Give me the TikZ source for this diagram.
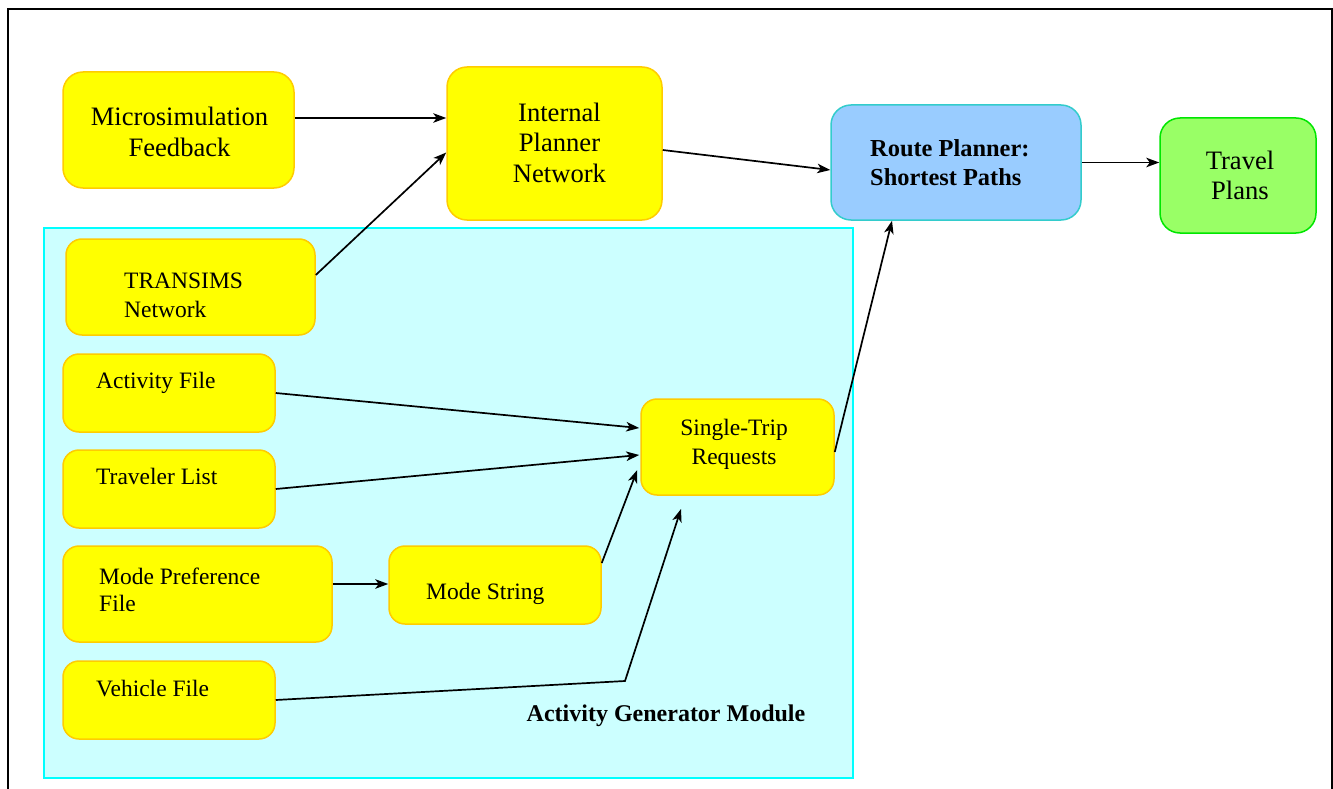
\documentclass[tikz,border=0pt]{standalone}
\usepackage{fontspec}
\setmainfont{Liberation Serif}
\usetikzlibrary{arrows.meta,calc}

\definecolor{boxfill}{RGB}{255,255,0}
\definecolor{boxedge}{RGB}{255,204,0}
\definecolor{routefill}{RGB}{153,204,255}
\definecolor{routeedge}{RGB}{51,204,204}
\definecolor{planfill}{RGB}{153,255,102}
\definecolor{planedge}{RGB}{0,230,0}
\definecolor{modfill}{RGB}{204,255,255}
\definecolor{modedge}{RGB}{0,255,255}

\tikzset{
  panel/.style={draw=boxedge, fill=boxfill, line width=1.5pt, inner sep=0pt, rounded corners=#1},
  panel/.default=20pt,
  bigtxt/.style={font=\fontsize{26.6}{30.5}\selectfont, align=center, inner sep=0pt},
  smalltxt/.style={font=\fontsize{23.5}{28.5}\selectfont, align=left, inner sep=0pt, anchor=west},
  flow/.style={line width=1.7pt, -{Stealth[length=13pt,width=9.5pt,inset=3.5pt]}},
}

\begin{document}
\begin{tikzpicture}[x=1pt,y=-1pt]
\useasboundingbox (0,0) rectangle (1333,789);

% outer frame, open at the bottom
\draw[line width=2pt] (8,789) -- (8,9) -- (1332,9) -- (1332,789);

% activity generator module area
\node[draw=modedge, fill=modfill, line width=1.8pt, minimum width=809pt, minimum height=550pt, inner sep=0pt]
  (module) at (448.5,503) {};
\node[font=\bfseries\fontsize{24}{28}\selectfont, inner sep=0pt] (modlabel) at (666,716) {Activity Generator Module};

% upper row
\node[panel, minimum width=231pt, minimum height=116pt] (micro) at (178.5,130) {};
\node[bigtxt] (microtxt) at (179.5,132) {Microsimulation\\Feedback};
\node[panel, minimum width=215pt, minimum height=153pt] (internal) at (554.5,143.5) {};
\node[bigtxt] (internaltxt) at (559.5,142.5) {Internal\\Planner\\Network};
\node[panel, draw=routeedge, fill=routefill, minimum width=250pt, minimum height=115pt] (route) at (956,162.5) {};
\node[font=\bfseries\fontsize{24.4}{29}\selectfont, align=left, inner sep=0pt, anchor=west]
  (routetxt) at (870,163) {Route Planner:\\Shortest Paths};
\node[panel, draw=planedge, fill=planfill, minimum width=156pt, minimum height=115pt] (travel) at (1238,175.5) {};
\node[bigtxt] (traveltxt) at (1240,175.5) {Travel\\Plans};

% input files inside the module
\node[panel=16pt, minimum width=249pt, minimum height=96pt] (transims) at (190.5,287) {};
\node[smalltxt] (transimstxt) at (124,295.5) {TRANSIMS\\Network};

\node[panel=16pt, minimum width=212pt, minimum height=78pt] (activity) at (169,393) {};
\node[smalltxt] (activitytxt) at (96,383) {Activity File};

\node[panel=16pt, minimum width=212pt, minimum height=78pt] (traveler) at (169,489) {};
\node[smalltxt] (travelertxt) at (96,476) {Traveler List};

\node[panel=16pt, minimum width=269pt, minimum height=96pt] (modepref) at (197.5,594) {};
\node[smalltxt, font=\fontsize{23.5}{27}\selectfont] (modepreftxt) at (99,590) {Mode Preference\\File};

\node[panel=16pt, minimum width=212pt, minimum height=78pt] (modestr) at (495,585) {};
\node[smalltxt] (modestrtxt) at (426,594) {Mode String};

\node[panel=16pt, minimum width=212pt, minimum height=78pt] (vehicle) at (169,700) {};
\node[smalltxt] (vehicletxt) at (96,688.5) {Vehicle File};

\node[panel=16pt, minimum width=193pt, minimum height=96pt] (single) at (737.5,447) {};
\node[bigtxt, font=\fontsize{23.5}{29}\selectfont] (singletxt) at (734,444.5) {Single-Trip\\Requests};

% connectors
\draw[flow] ([yshift=12pt]micro.east) -- ([yshift=12pt]micro.east -| internal.west);
\draw[flow] ([yshift=12pt]transims.east) -- ([yshift=-9pt]internal.west);
\draw[flow] ([yshift=-6.5pt]internal.east) -- ([yshift=-7.5pt]route.west);
\draw[flow] (route.east) -- (route.east -| travel.west);

\draw[flow] (activity.east) -- ([xshift=-1pt,yshift=19pt]single.west);
\draw[flow] (traveler.east) -- ([xshift=-1pt,yshift=-8pt]single.west);
\draw[flow] ([yshift=10pt]modepref.east) -- ([yshift=10pt]modepref.east -| modestr.west);
\draw[flow] ([yshift=22pt]modestr.east) -- ([xshift=-3pt,yshift=-23pt]single.west);

\coordinate (vbend) at (625,681);
\coordinate (vtip) at (681,509);
\draw[flow] (vehicle.east) -- (vbend) -- (vtip);

\draw[flow] ([yshift=-5pt]single.east) -- ([xshift=-64pt]route.south);
\end{tikzpicture}
\end{document}
